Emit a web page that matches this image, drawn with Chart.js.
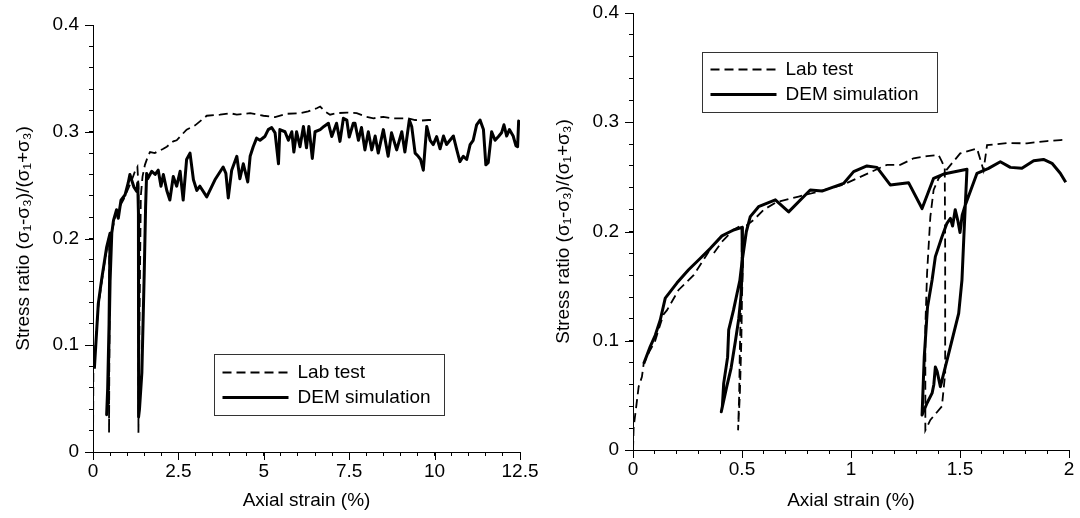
<!DOCTYPE html>
<html>
<head>
<meta charset="utf-8">
<script src="https://cdn.jsdelivr.net/npm/chart.js@4.4.1/dist/chart.umd.min.js"></script>
<style>
  body { margin: 0; background: #fff; }
  #wrap { position: relative; width: 1080px; height: 518px; }
  canvas { position: absolute; top: 0; }
</style>
</head>
<body>
<div id="wrap">
  <canvas id="left" width="540" height="518" style="left:0"></canvas>
  <canvas id="right" width="540" height="518" style="left:540px"></canvas>
</div>
<script>
// [axial strain %, stress ratio]
const labLeft = [[0,0],[0.01,0.074],[0.05,0.09],[0.15,0.135],[0.25,0.158],[0.35,0.18],[0.45,0.198],[0.48,0.203],
  [0.47,0.10],[0.47,0.018],[0.48,0.10],[0.50,0.18],[0.55,0.207],[0.70,0.225],[0.90,0.237],[1.05,0.248],[1.15,0.256],
  [1.23,0.263],[1.30,0.267],[1.33,0.25],[1.33,0.018],[1.36,0.12],[1.40,0.24],[1.45,0.258],[1.52,0.269],[1.62,0.278],
  [1.67,0.281],[1.81,0.28],[1.86,0.281],[2.06,0.284],[2.16,0.286],[2.35,0.291],[2.45,0.292],[2.74,0.302],[2.99,0.306],
  [3.18,0.311],[3.33,0.315],[3.72,0.316],[4.01,0.3174],[4.21,0.316],[4.60,0.3174],[4.99,0.315],[5.33,0.3137],
  [5.67,0.3168],[6.06,0.3174],[6.30,0.319],[6.55,0.322],[6.65,0.3236],[6.79,0.319],[6.94,0.316],[7.13,0.3174],
  [7.43,0.318],[7.72,0.3174],[8.01,0.314],[8.21,0.3126],[8.50,0.314],[8.74,0.3126],[8.99,0.3126],[9.23,0.3126],
  [9.43,0.311],[9.62,0.3105],[9.82,0.311],[9.95,0.311]];

const demLeft = [[0.04,0.078],[0.155,0.139],[0.25,0.161],[0.40,0.192],[0.50,0.205],
  [0.47,0.12],[0.43,0.06],[0.40,0.035],[0.42,0.04],[0.46,0.09],[0.50,0.16],[0.55,0.205],
  [0.60,0.217],[0.69,0.227],[0.74,0.219],[0.82,0.236],[0.94,0.241],[1.03,0.252],[1.08,0.26],[1.15,0.253],
  [1.20,0.248],[1.28,0.244],[1.31,0.252],[1.33,0.224],[1.34,0.10],[1.33,0.033],[1.36,0.04],[1.43,0.074],
  [1.50,0.168],[1.54,0.23],[1.57,0.261],[1.60,0.256],[1.72,0.263],[1.82,0.26],[1.91,0.264],[1.99,0.249],
  [2.06,0.26],[2.16,0.245],[2.25,0.236],[2.35,0.258],[2.45,0.249],[2.55,0.263],[2.64,0.236],[2.74,0.274],
  [2.84,0.28],[2.94,0.255],[3.04,0.245],[3.13,0.249],[3.33,0.239],[3.57,0.255],[3.81,0.267],[3.89,0.261],
  [3.96,0.238],[4.06,0.264],[4.21,0.277],[4.30,0.256],[4.40,0.27],[4.53,0.253],[4.60,0.277],[4.69,0.286],
  [4.79,0.294],[4.89,0.292],[5.03,0.2955],[5.13,0.302],[5.23,0.304],[5.33,0.299],[5.43,0.27],[5.47,0.302],
  [5.62,0.30],[5.72,0.292],[5.82,0.30],[5.88,0.281],[5.96,0.30],[6.06,0.286],[6.16,0.305],[6.25,0.285],
  [6.32,0.305],[6.42,0.275],[6.50,0.30],[6.65,0.302],[6.76,0.305],[6.89,0.308],[6.99,0.2955],[7.13,0.308],
  [7.23,0.291],[7.33,0.3126],[7.43,0.311],[7.50,0.295],[7.62,0.308],[7.67,0.308],[7.77,0.292],[7.86,0.304],
  [7.96,0.283],[8.06,0.30],[8.16,0.283],[8.26,0.296],[8.35,0.28],[8.50,0.302],[8.64,0.277],[8.74,0.299],
  [8.89,0.283],[9.04,0.30],[9.13,0.281],[9.26,0.311],[9.33,0.305],[9.43,0.28],[9.52,0.277],[9.59,0.274],
  [9.67,0.264],[9.77,0.305],[9.87,0.292],[9.96,0.288],[10.06,0.2955],[10.16,0.284],[10.26,0.296],[10.35,0.288],
  [10.45,0.292],[10.55,0.296],[10.65,0.283],[10.74,0.272],[10.84,0.277],[10.94,0.274],[11.04,0.288],[11.13,0.292],
  [11.23,0.3065],[11.33,0.311],[11.43,0.302],[11.50,0.269],[11.57,0.271],[11.67,0.30],[11.77,0.292],[11.87,0.2955],
  [11.96,0.299],[12.03,0.3065],[12.11,0.296],[12.19,0.302],[12.30,0.296],[12.38,0.287],[12.43,0.286],[12.46,0.31],
  [12.50,0.309]];

const labRight = [[0,0],[0.003,0.021],[0.015,0.04],[0.026,0.058],[0.041,0.067],[0.049,0.079],[0.075,0.09],
  [0.102,0.10],[0.125,0.115],[0.14,0.124],[0.156,0.128],[0.209,0.1465],[0.278,0.16],[0.347,0.1815],[0.37,0.18],
  [0.408,0.1907],[0.461,0.2014],[0.49,0.205],[0.50,0.204],[0.497,0.15],[0.49,0.09],[0.487,0.05],[0.482,0.018],
  [0.49,0.05],[0.497,0.10],[0.50,0.14],[0.505,0.18],[0.523,0.206],[0.553,0.2105],[0.60,0.22],[0.66,0.227],
  [0.76,0.232],[0.86,0.237],[0.966,0.243],[1.043,0.25],[1.119,0.257],[1.165,0.261],[1.226,0.261],[1.287,0.267],
  [1.349,0.269],[1.402,0.27],[1.417,0.264],[1.43,0.258],[1.432,0.183],[1.432,0.07],[1.417,0.04],[1.364,0.0275],
  [1.341,0.018],[1.341,0.113],[1.349,0.162],[1.364,0.2136],[1.379,0.238],[1.402,0.2487],[1.425,0.2533],
  [1.501,0.2715],[1.578,0.276],[1.608,0.256],[1.624,0.279],[1.716,0.281],[1.807,0.2807],[1.899,0.2828],
  [1.96,0.2837],[1.985,0.284]];

const demRight = [[0.049,0.079],[0.079,0.0946],[0.102,0.105],[0.125,0.119],[0.148,0.139],[0.202,0.153],
  [0.255,0.165],[0.309,0.1755],[0.355,0.1846],[0.408,0.196],[0.461,0.2014],[0.50,0.2038],
  [0.502,0.17],[0.495,0.14],[0.485,0.12],[0.47,0.10],[0.45,0.075],[0.43,0.058],[0.405,0.035],
  [0.41,0.04],[0.416,0.061],[0.434,0.085],[0.439,0.11],[0.461,0.128],[0.477,0.143],[0.49,0.155],[0.50,0.172],
  [0.52,0.20],[0.538,0.2136],[0.576,0.2227],[0.653,0.229],[0.714,0.218],[0.813,0.238],[0.867,0.237],
  [0.966,0.244],[1.012,0.2548],[1.073,0.26],[1.119,0.2587],[1.18,0.2426],[1.264,0.2447],[1.326,0.221],
  [1.379,0.2487],[1.425,0.2526],[1.532,0.257],
  [1.524,0.2227],[1.517,0.192],[1.509,0.1556],[1.494,0.125],[1.456,0.0946],[1.425,0.07],[1.41,0.058],
  [1.395,0.072],[1.387,0.076],[1.38,0.06],[1.372,0.052],[1.349,0.043],[1.326,0.032],
  [1.336,0.085],[1.351,0.131],[1.372,0.1556],[1.387,0.177],[1.417,0.195],[1.44,0.2075],[1.456,0.212],
  [1.466,0.205],[1.478,0.22],[1.49,0.21],[1.50,0.199],[1.51,0.215],[1.524,0.224],
  [1.578,0.2533],[1.631,0.2578],[1.685,0.2639],[1.731,0.2587],[1.784,0.2578],[1.838,0.2648],[1.883,0.266],
  [1.922,0.2624],[1.96,0.2533],[1.985,0.245]];

const seriesNames = ['Lab test', 'DEM simulation'];
const yMajor = [0, 0.1, 0.2, 0.3, 0.4];
const yLabels = ['0', '0.1', '0.2', '0.3', '0.4'];
const xMajorLeft = [0, 2.5, 5, 7.5, 10, 12.5];
const xLabelsLeft = ['0', '2.5', '5', '7.5', '10', '12.5'];
const xMajorRight = [0, 0.5, 1, 1.5, 2];
const xLabelsRight = ['0', '0.5', '1', '1.5', '2'];

const FONT = '"Liberation Sans", Arial, Helvetica, sans-serif';
const FSIZE = 19;

function minorTicks(max, step) {
  let out = [];
  for (let i = 0; i * step <= max + 1e-9; i++) out.push({ value: +(i * step).toFixed(6) });
  return out;
}

function labelFor(majors, labels) {
  return function (value) {
    for (let i = 0; i < majors.length; i++) {
      if (Math.abs(majors[i] - value) < 1e-6) return labels[i];
    }
    return '';
  };
}

// longer tick marks at the labelled values
const majorTicks = {
  id: 'majorTicks',
  afterDraw(chart, args, opts) {
    const ctx = chart.ctx, a = chart.chartArea;
    ctx.save();
    ctx.strokeStyle = '#000';
    ctx.lineWidth = 1;
    opts.x.forEach(v => {
      const px = Math.round(chart.scales.x.getPixelForValue(v)) + 0.5;
      ctx.beginPath(); ctx.moveTo(px, a.bottom); ctx.lineTo(px, a.bottom + 8); ctx.stroke();
    });
    opts.y.forEach(v => {
      const py = Math.round(chart.scales.y.getPixelForValue(v)) + 0.5;
      ctx.beginPath(); ctx.moveTo(a.left - 8, py); ctx.lineTo(a.left, py); ctx.stroke();
    });
    ctx.restore();
  }
};

// boxed legend inside the plot
const boxLegend = {
  id: 'boxLegend',
  afterDraw(chart, args, opts) {
    const ctx = chart.ctx, a = chart.chartArea;
    const x = Math.round(a.left + opts.x) + 0.5, y = Math.round(a.top + opts.y) + 0.5;
    ctx.save();
    ctx.fillStyle = '#fff';
    ctx.fillRect(x, y, opts.w, opts.h);
    ctx.strokeStyle = '#333';
    ctx.lineWidth = 1;
    ctx.strokeRect(x, y, opts.w, opts.h);
    ctx.font = FSIZE + 'px ' + FONT;
    ctx.textBaseline = 'middle';
    chart.data.datasets.forEach((ds, i) => {
      const ly = y + opts.rows[i];
      ctx.beginPath();
      ctx.setLineDash(ds.borderDash || []);
      ctx.lineWidth = ds.borderWidth;
      ctx.strokeStyle = '#000';
      ctx.moveTo(x + 8, ly); ctx.lineTo(x + 74, ly); ctx.stroke();
      ctx.setLineDash([]);
      ctx.fillStyle = '#000';
      ctx.fillText(ds.label, x + 83, ly);
    });
    ctx.restore();
  }
};

function drawPanel(id, lab, dem, xMax, xStep, xMajor, xLabels, box) {
  const ctx = document.getElementById(id);
  return new Chart(ctx, {
    type: 'line',
    data: {
      datasets: [
        {
          label: seriesNames[0],
          data: lab.map(p => ({ x: p[0], y: p[1] })),
          borderColor: '#000',
          borderWidth: 1.8,
          borderDash: [9, 5],
          pointRadius: 0,
          tension: 0,
          fill: false
        },
        {
          label: seriesNames[1],
          data: dem.map(p => ({ x: p[0], y: p[1] })),
          borderColor: '#000',
          borderWidth: 3,
          pointRadius: 0,
          tension: 0,
          fill: false,
          borderJoinStyle: 'round'
        }
      ]
    },
    options: {
      responsive: false,
      animation: false,
      layout: { padding: { left: 0, top: box.top, right: box.right, bottom: 0 } },
      plugins: {
        legend: { display: false },
        tooltip: { enabled: false },
        majorTicks: { x: xMajor, y: yMajor },
        boxLegend: box.legend
      },
      scales: {
        x: {
          type: 'linear',
          min: 0,
          max: xMax,
          afterBuildTicks: s => { s.ticks = minorTicks(xMax, xStep); },
          afterFit: s => { s.height = box.xh; s.paddingLeft = 0; s.paddingRight = 0; },
          ticks: {
            autoSkip: false, maxRotation: 0, padding: 4, color: '#000',
            font: { family: FONT, size: FSIZE },
            callback: labelFor(xMajor, xLabels)
          },
          grid: { drawOnChartArea: false, drawTicks: true, tickLength: 4, color: '#000' },
          border: { display: true, color: '#000', width: 1 },
          title: {
            display: true, text: 'Axial strain (%)', color: '#000',
            font: { family: FONT, size: FSIZE }, padding: { top: 0, bottom: 6 }
          }
        },
        y: {
          type: 'linear',
          min: 0,
          max: 0.4,
          afterBuildTicks: s => { s.ticks = minorTicks(0.4, 0.02); },
          afterFit: s => { s.width = box.yw; s.paddingTop = 0; s.paddingBottom = 0; },
          ticks: {
            autoSkip: false, padding: 10, color: '#000',
            font: { family: FONT, size: FSIZE },
            callback: labelFor(yMajor, yLabels)
          },
          grid: { drawOnChartArea: false, drawTicks: true, tickLength: 4, color: '#000' },
          border: { display: true, color: '#000', width: 1 },
          title: {
            display: true, text: 'Stress ratio (σ₁-σ₃)/(σ₁+σ₃)', color: '#000',
            font: { family: FONT, size: FSIZE }, padding: { top: 12, bottom: 0 }
          }
        }
      }
    },
    plugins: [majorTicks, boxLegend]
  });
}

drawPanel('left', labLeft, demLeft, 12.5, 0.5, xMajorLeft, xLabelsLeft, {
  top: 25, right: 20, xh: 66, yw: 93,
  legend: { x: 121, y: 329, w: 230, h: 61, rows: [18, 43] }
});

drawPanel('right', labRight, demRight, 2, 0.1, xMajorRight, xLabelsRight, {
  top: 13, right: 11, xh: 68, yw: 93,
  legend: { x: 69, y: 39, w: 235, h: 60, rows: [17, 42] }
});
</script>
</body>
</html>
